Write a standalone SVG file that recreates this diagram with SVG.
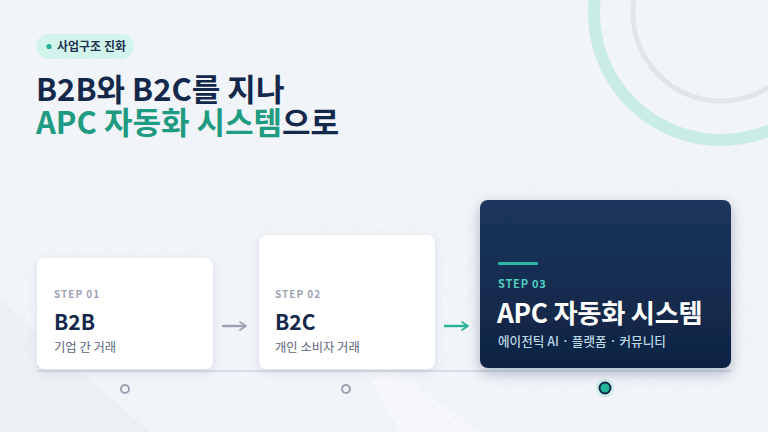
<svg xmlns="http://www.w3.org/2000/svg" width="768" height="432" viewBox="0 0 768 432">
<defs>
<style>
.k{font-family:"Noto Sans CJK KR","Noto Sans",sans-serif}
.step{font-size:10px;font-weight:700;letter-spacing:1px;fill:#9aa2b3}
.ttl{font-size:21px;font-weight:700;fill:#13284a}
.sub{font-size:12.3px;font-weight:400;fill:#5b6478}
.card{fill:#ffffff;filter:url(#sh)}
</style>
<pattern id="hatch" width="22" height="22" patternUnits="userSpaceOnUse" patternTransform="rotate(40)">
<line x1="0" y1="0" x2="0" y2="22" stroke="#e3e8ef" stroke-width="0.8"/>
</pattern>
<linearGradient id="navy" x1="0" y1="0" x2="0" y2="1">
<stop offset="0" stop-color="#1b365c"/>
<stop offset="1" stop-color="#0f2343"/>
</linearGradient>
<filter id="sh" x="-20%" y="-20%" width="140%" height="150%">
<feDropShadow dx="0" dy="3" stdDeviation="4" flood-color="#1a2d50" flood-opacity="0.10"/>
</filter>
<filter id="sh2" x="-20%" y="-20%" width="140%" height="150%">
<feDropShadow dx="0" dy="5" stdDeviation="7" flood-color="#0f2343" flood-opacity="0.28"/>
</filter>
<marker id="ag" viewBox="0 0 10 10" refX="7" refY="5" markerWidth="10" markerHeight="10" markerUnits="userSpaceOnUse" orient="auto">
<path d="M1,1 L7,5 L1,9" fill="none" stroke="#9aa2b3" stroke-width="1.6" stroke-linecap="round" stroke-linejoin="round"/>
</marker>
<marker id="at" viewBox="0 0 10 10" refX="7" refY="5" markerWidth="10" markerHeight="10" markerUnits="userSpaceOnUse" orient="auto">
<path d="M1,1 L7,5 L1,9" fill="none" stroke="#27b39a" stroke-width="1.6" stroke-linecap="round" stroke-linejoin="round"/>
</marker>
</defs>
<rect width="768" height="432" fill="#f1f4f8"/>
<path d="M0,300 L150,432 L0,432 Z" fill="#e9edf2" opacity="0.6"/>
<path d="M340,330 L480,432 L400,432 Z" fill="#f6f8fb" opacity="0.7"/>
<rect width="768" height="432" fill="url(#hatch)"/>
<circle cx="721" cy="13" r="127" fill="none" stroke="#c9ece7" stroke-width="12"/>
<circle cx="721" cy="13" r="88" fill="none" stroke="#e2e4ea" stroke-width="5"/>

<g id="tag">
<rect x="36" y="34" width="98" height="25" rx="12.5" fill="#d3f4ea"/>
<circle cx="49" cy="46.5" r="2.6" fill="#22b394"/>
<text class="k" x="57" y="51" font-size="12" font-weight="700" fill="#1f3352">사업구조 진화</text>
</g>
<g id="title">
<text class="k" x="36" y="101" font-size="31" font-weight="700" fill="#13284a">B2B와 B2C를 지나</text>
<text class="k" x="36" y="134" font-size="31" font-weight="700" fill="#1e9b80">APC 자동화 시스템<tspan fill="#13284a">으로</tspan></text>
</g>

<g id="timeline">
<line x1="37" y1="371" x2="731" y2="371" stroke="#d8dde7" stroke-width="2"/>
<circle cx="125" cy="389" r="4" fill="#f1f4f8" stroke="#9aa2b3" stroke-width="2"/>
<circle cx="346" cy="389" r="4" fill="#f1f4f8" stroke="#9aa2b3" stroke-width="2"/>
<circle cx="605" cy="388" r="9.5" fill="#d6efee"/>
<circle cx="605" cy="388" r="5.5" fill="#20b59b" stroke="#10284a" stroke-width="2"/>
</g>

<g id="connectors">
<line x1="222" y1="326" x2="246" y2="326" stroke="#9aa2b3" stroke-width="2.4" marker-end="url(#ag)"/>
<line x1="444" y1="326" x2="468" y2="326" stroke="#27b39a" stroke-width="2.4" marker-end="url(#at)"/>
</g>

<g id="step1">
<rect class="card" x="37" y="258" width="176" height="111" rx="8"/>
<text class="k step" x="54" y="298">STEP 01</text>
<text class="k ttl" x="54" y="330">B2B</text>
<text class="k sub" x="54" y="352">기업 간 거래</text>
</g>
<g id="step2">
<rect class="card" x="259" y="235" width="176" height="134" rx="8"/>
<text class="k step" x="275" y="298">STEP 02</text>
<text class="k ttl" x="275" y="330">B2C</text>
<text class="k sub" x="275" y="352">개인 소비자 거래</text>
</g>
<g id="step3">
<rect x="480" y="200" width="251" height="168" rx="8" fill="url(#navy)" filter="url(#sh2)"/>
<rect x="498" y="262" width="40" height="3" rx="1" fill="#2bb7a4"/>
<text class="k" x="498" y="288" font-size="11" font-weight="700" letter-spacing="0.8" fill="#4ccfc0">STEP 03</text>
<text class="k" x="497" y="323" font-size="26.3" font-weight="700" fill="#ffffff" letter-spacing="-0.3">APC 자동화 시스템</text>
<text class="k" x="498" y="346" font-size="12.6" font-weight="500" fill="#b9d6e2">에이전틱 AI · 플랫폼 · 커뮤니티</text>
</g>
</svg>
